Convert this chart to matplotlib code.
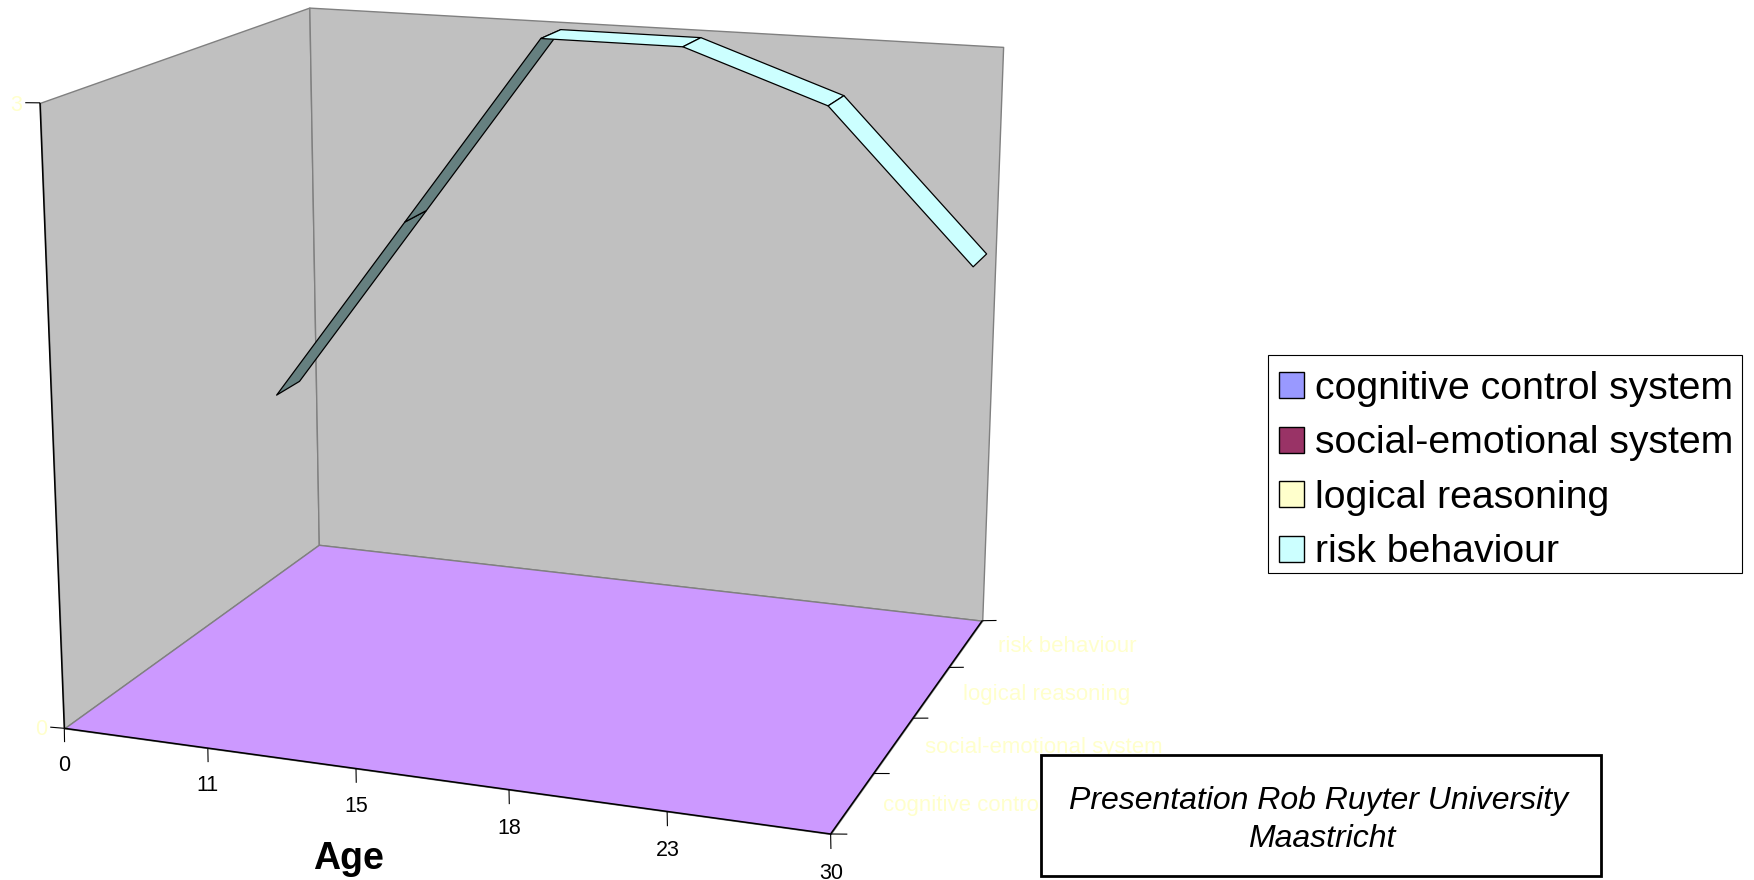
import matplotlib
matplotlib.use('Agg')
import matplotlib.pyplot as plt
import numpy as np
from matplotlib.patches import Patch, Rectangle
from mpl_toolkits.mplot3d.art3d import Line3DCollection, Poly3DCollection

plt.rcParams['font.family'] = ['Liberation Sans', 'DejaVu Sans']

"""
Data
"""
ages = ['0', '11', '15', '18', '23', '30']
series_names = ['cognitive control system', 'social-emotional system',
                'logical reasoning', 'risk behaviour']
series_colors = ['#9999FF', '#993366', '#FFFFCC', '#CCFFFF']
risk_values = [1.0, 2.0, 3.0, 3.0, 2.75, 2.0]
value_ticks = [0, 3]

"""
Camera: fitted to the box corners of the picture, maps (age index, series index, value)
to pixels of the 1754x880 figure
"""
W, H = 1754, 880
camera = np.array([
    [701.4 / 5, 309.65 / 4, -26.26 / 3, 64.3],
    [40.5 / 5, -89.26 / 4, -630.5 / 3, 728.3],
    [0, 1, 0, 0],
    [-0.07816 / 5, 0.17298 / 4, -0.049 / 3, 1],
])

fig = plt.figure(figsize=(W / 100, H / 100), dpi=100, facecolor='white')
ax = fig.add_axes([0, 0, 1, 1], projection='3d')
ax.set_axis_off()
ax.computed_zorder = False
ax.get_proj = lambda: camera
ax.apply_aspect = lambda position=None: None
ax.viewLim.intervalx = (0, W)
ax.viewLim.intervaly = (H, 0)

x_max = len(ages) - 1
y_max = len(series_names)
z_max = value_ticks[-1]

"""
Walls and floor
"""
left_wall = [(0, 0, 0), (0, y_max, 0), (0, y_max, z_max), (0, 0, z_max)]
back_wall = [(0, y_max, 0), (x_max, y_max, 0), (x_max, y_max, z_max), (0, y_max, z_max)]
floor = [(0, 0, 0), (x_max, 0, 0), (x_max, y_max, 0), (0, y_max, 0)]

for face, color in [(left_wall, '#C0C0C0'), (back_wall, '#C0C0C0'), (floor, '#CC99FF')]:
    ax.add_collection3d(Poly3DCollection([face], facecolor=color, edgecolor='#808080',
                                         linewidth=1.0, zorder=1))

# black front edges
edges = [[(0, 0, 0), (x_max, 0, 0)], [(x_max, 0, 0), (x_max, y_max, 0)], [(0, 0, 0), (0, 0, z_max)]]
ax.add_collection3d(Line3DCollection(edges, colors='black', linewidths=1.1, zorder=2))

"""
Ticks and tick labels
"""
ticks = []
for i, age in enumerate(ages):
    # small x shift keeps ticks and labels upright against the perspective
    ticks.append([(i, 0, 0), (i - 0.002 + 0.0012 * i, 0, -0.07)])
    ax.text(i - 0.01 + 0.0035 * i, 0, -0.187, age, ha='center', va='center',
            fontsize=15.5, color='black')

for v in value_ticks:
    ticks.append([(0, 0, v), (-0.1, 0, v - 0.004)])
    ax.text(-0.165, 0, v - 0.02, str(v), ha='center', va='center', fontsize=15.5, color='#FFFFCC')

for j in range(y_max + 1):
    ticks.append([(x_max, j, 0), (x_max + 0.1, j, 0.01)])

ax.add_collection3d(Line3DCollection(ticks, colors='black', linewidths=0.8, zorder=2))

for j, name in enumerate(series_names):
    ax.text(x_max + 0.185 + 0.012 * j, j + 0.5, 0.006, name, ha='left', va='center',
            fontsize=16, color='#FFFFCC')

"""
Risk behaviour ribbon, the rising parts show their shaded underside
"""
band = series_names.index('risk behaviour') + 0.5
half_depth = 0.2
for i in range(len(risk_values) - 1):
    v0, v1 = risk_values[i], risk_values[i + 1]
    quad = [(i, band - half_depth, v0), (i + 1, band - half_depth, v1),
            (i + 1, band + half_depth, v1), (i, band + half_depth, v0)]
    color = '#668080' if v1 > v0 else series_colors[3]
    ax.add_collection3d(Poly3DCollection([quad], facecolor=color, edgecolor='black',
                                         linewidth=0.9, zorder=5 + i))

"""
Legend, axis title and note
"""
fig.add_artist(Rectangle((1268 / W, 1 - 573.3 / H), 473.7 / W, 218 / H,
                         transform=fig.transFigure, facecolor='white',
                         edgecolor='black', linewidth=0.8, zorder=1))
handles = [Patch(facecolor=c, edgecolor='black', linewidth=1.0) for c in series_colors]
leg = fig.legend(handles, series_names, loc='upper left',
                 bbox_to_anchor=(1268 / W, 1 - 360 / H), borderaxespad=0,
                 fontsize=28.3, handlelength=0.64, handleheight=0.64, handletextpad=0.28,
                 labelspacing=0.47, borderpad=0.28, frameon=False)
leg.set_zorder(2)

fig.text(349 / W, 1 - 868.7 / H, 'Age', ha='center', va='baseline',
         fontsize=27, fontweight='bold')

fig.add_artist(Rectangle((1041 / W, 1 - 876 / H), 559.6 / W, 121 / H,
                         transform=fig.transFigure, facecolor='white',
                         edgecolor='black', linewidth=2.0, zorder=2))
fig.text(1318.3 / W, 1 - 808.7 / H, 'Presentation Rob Ruyter University',
         ha='center', va='baseline', fontsize=23.05, style='italic', zorder=3)
fig.text(1322 / W, 1 - 847 / H, 'Maastricht',
         ha='center', va='baseline', fontsize=23.05, style='italic', zorder=3)

fig.savefig('out.png', dpi=100)
